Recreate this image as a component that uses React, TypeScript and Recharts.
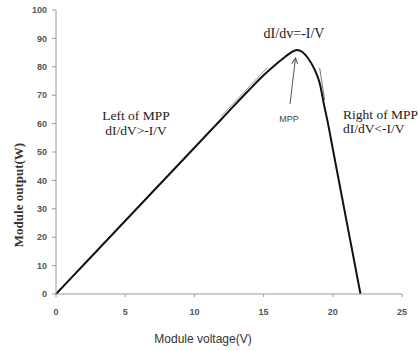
import React from "react";
import { LineChart, Line, XAxis, YAxis, ReferenceLine } from "recharts";

// module voltage (V) and power (W)
const voltage = [0, 2, 4, 6, 8, 10, 12, 14, 15, 16, 16.5, 17, 17.4, 17.8, 18.2, 18.7, 19.05, 19.4, 19.6, 20, 20.5, 21, 21.5, 22];
const power = [0, 10.3, 20.6, 30.9, 41.2, 51.5, 61.8, 72.1, 77, 81.3, 83.3, 85.1, 85.9, 85.2, 83.1, 78.9, 74.3, 65.8, 61.3, 51.1, 38.3, 25.5, 12.8, 0];

const xTicks = [0, 5, 10, 15, 20, 25];
const yTicks = [0, 10, 20, 30, 40, 50, 60, 70, 80, 90, 100];

// thin tangent strokes drawn beside the curve
const leftTangent = [{ x: 11.9, y: 62.4 }, { x: 15.3, y: 79.9 }];
const rightTangent = [{ x: 19.05, y: 79.6 }, { x: 19.41, y: 68.3 }];

const data = voltage.map((v, i) => ({ v, p: power[i] }));

const serif = "'Liberation Serif', 'DejaVu Serif', serif";
const sans = "'Liberation Sans', Arial, sans-serif";

export default function App() {
    return (
        <div style={{ position: "absolute", left: 0, top: 0, width: 419, height: 351, background: "#fff" }}>
            <LineChart width={419} height={351} data={data} margin={{ top: 10, right: 17, left: 0, bottom: 0 }}>
                <XAxis
                    type="number"
                    dataKey="v"
                    domain={[0, 25]}
                    ticks={xTicks}
                    height={57}
                    stroke="#9a9a9a"
                    tickSize={3}
                    tickMargin={12}
                    tick={{ fill: "#555", fontSize: 9, fontFamily: sans, fontWeight: "bold" }}
                />
                <YAxis
                    type="number"
                    domain={[0, 100]}
                    ticks={yTicks}
                    width={56}
                    stroke="#9a9a9a"
                    tickSize={4}
                    tickMargin={5}
                    tick={{ fill: "#555", fontSize: 9, fontFamily: sans, fontWeight: "bold" }}
                />
                <ReferenceLine segment={leftTangent} stroke="#9a9a9a" strokeWidth={1} />
                <ReferenceLine segment={rightTangent} stroke="#777" strokeWidth={1} />
                <Line
                    type="monotone"
                    dataKey="p"
                    stroke="#111"
                    strokeWidth={2}
                    dot={false}
                    isAnimationActive={false}
                />
            </LineChart>
            <svg width={419} height={351} style={{ position: "absolute", left: 0, top: 0, pointerEvents: "none" }}>
                <defs>
                    <marker id="arr" markerWidth="8" markerHeight="8" refX="6" refY="4" orient="auto">
                        <path d="M0,1 L6,4 L0,7" fill="none" stroke="#555" strokeWidth="1" />
                    </marker>
                </defs>
                <text x={136} y={120} textAnchor="middle" fontFamily={serif} fontSize={13.5} fill="#222">Left of MPP</text>
                <text x={136} y={135} textAnchor="middle" fontFamily={serif} fontSize={13.5} fill="#222">dI/dV&gt;-I/V</text>
                <text x={294} y={38} textAnchor="middle" fontFamily={serif} fontSize={14} fill="#222">dI/dv=-I/V</text>
                <text x={289} y={122} textAnchor="middle" fontFamily={sans} fontSize={9} fill="#444">MPP</text>
                <text x={343} y={119} fontFamily={serif} fontSize={13.5} fill="#222">Right of MPP</text>
                <text x={343} y={133} fontFamily={serif} fontSize={13.5} fill="#222">dI/dV&lt;-I/V</text>
                <line x1={290} y1={104} x2={295.5} y2={58} stroke="#555" strokeWidth={1} markerEnd="url(#arr)" />
                <text x={203} y={343} textAnchor="middle" fontFamily={sans} fontSize={12} fill="#333">Module voltage(V)</text>
                <text x={23} y={195} transform="rotate(-90 23 195)" textAnchor="middle" fontFamily={serif} fontSize={13} fontWeight="bold" fill="#333">Module output(W)</text>
            </svg>
        </div>
    );
}
